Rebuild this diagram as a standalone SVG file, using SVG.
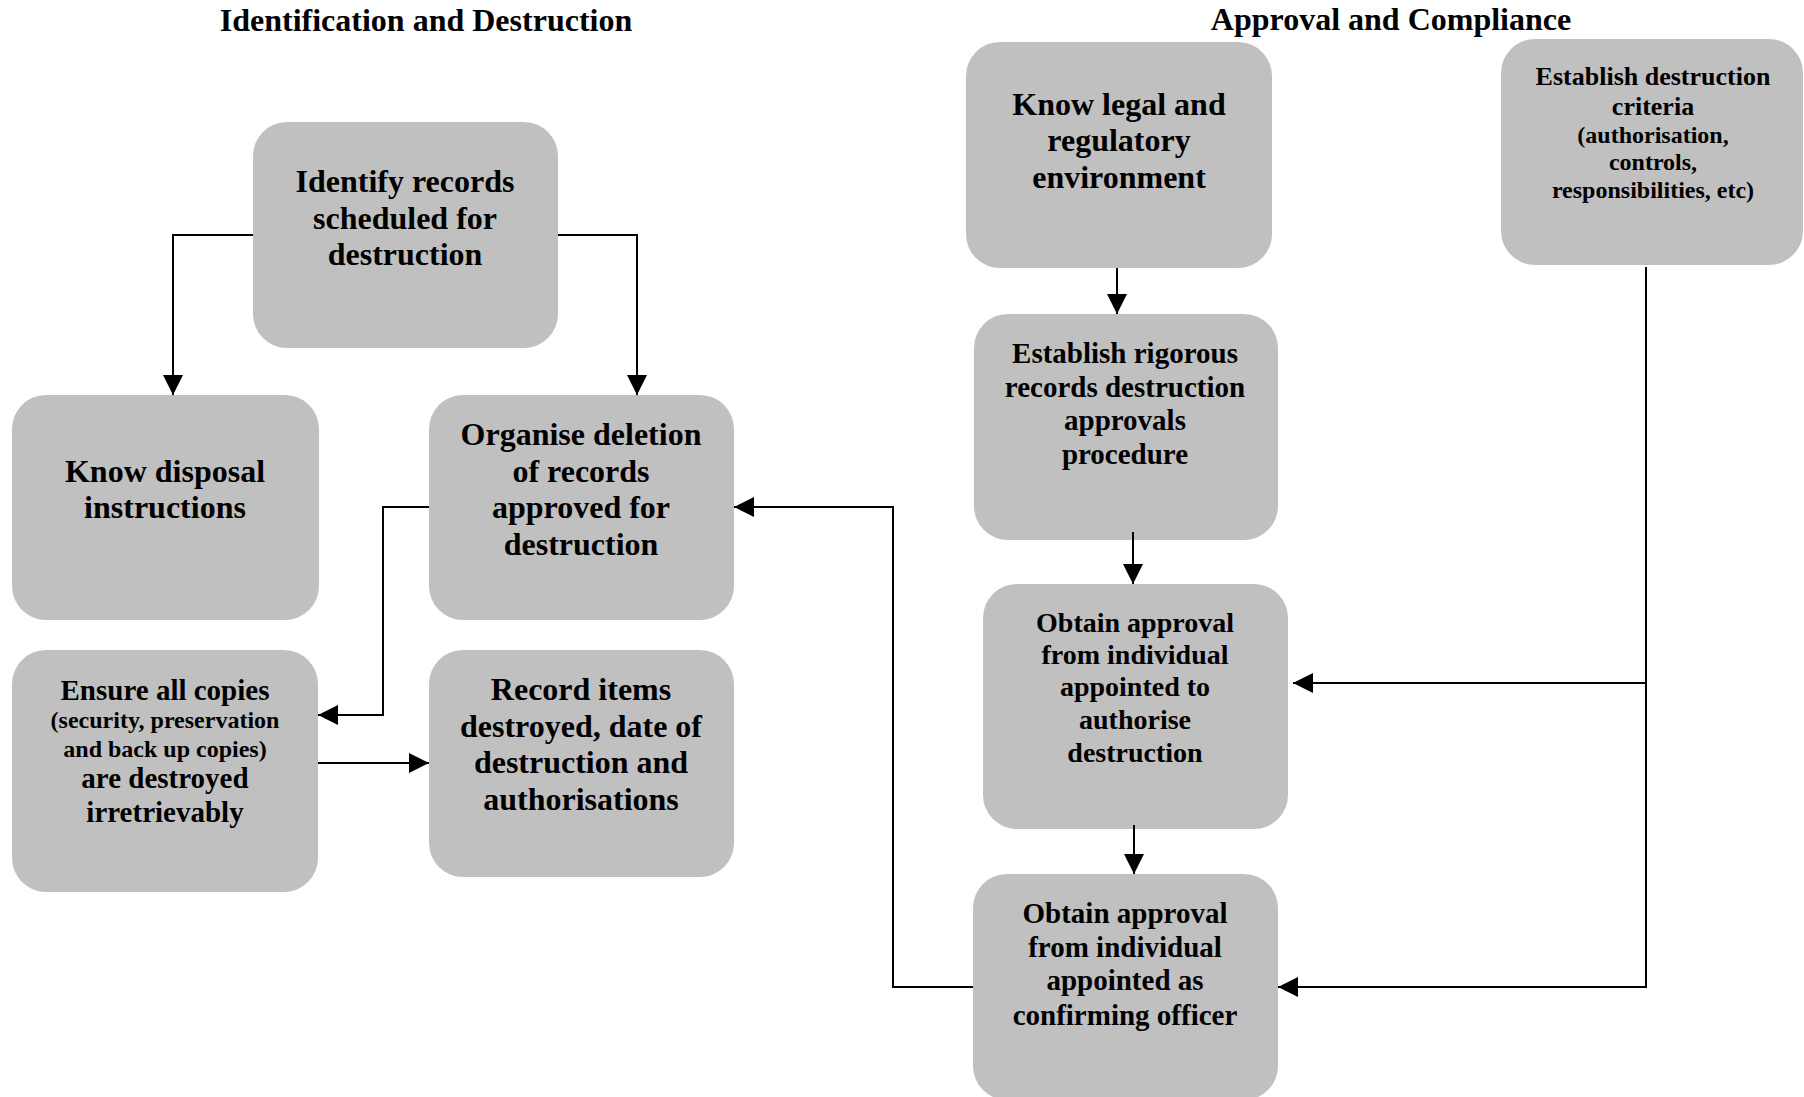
<svg xmlns="http://www.w3.org/2000/svg" width="1804" height="1097" viewBox="0 0 1804 1097">
  <style>
    .box { fill: #c0c0c0; }
    .t { font-family: "Liberation Serif", "Times New Roman", serif; font-weight: bold; fill: #000; text-anchor: middle; }
    .title { font-size: 32px; }
    .f32 { font-size: 32px; }
    .f29 { font-size: 29px; }
    .f28 { font-size: 28px; }
    .f26 { font-size: 26px; }
    .f24 { font-size: 24px; }
    .link { fill: none; stroke: #000; stroke-width: 2; }
    .arrow { marker-end: url(#head); }
  </style>
  <defs>
    <marker id="head" markerUnits="userSpaceOnUse" markerWidth="20" markerHeight="20" refX="20" refY="10" orient="auto">
      <path d="M0,0 L20,10 L0,20 Z" fill="#000"/>
    </marker>
  </defs>

  <rect width="1804" height="1097" fill="#fff"/>

  <!-- Column headings -->
  <text class="t title" x="426" y="31">Identification and Destruction</text>
  <text class="t title" x="1391" y="30">Approval and Compliance</text>

  <!-- Identification and Destruction column -->
  <g id="identify-records">
    <rect class="box" x="253" y="122" width="305" height="226" rx="34"/>
    <text class="t f32" x="405" y="192">Identify records</text>
    <text class="t f32" x="405" y="229">scheduled for</text>
    <text class="t f32" x="405" y="265">destruction</text>
  </g>

  <g id="know-disposal">
    <rect class="box" x="12" y="395" width="307" height="225" rx="34"/>
    <text class="t f32" x="165" y="482">Know disposal</text>
    <text class="t f32" x="165" y="518">instructions</text>
  </g>

  <g id="organise-deletion">
    <rect class="box" x="429" y="395" width="305" height="225" rx="34"/>
    <text class="t f32" x="581" y="445">Organise deletion</text>
    <text class="t f32" x="581" y="482">of records</text>
    <text class="t f32" x="581" y="518">approved for</text>
    <text class="t f32" x="581" y="555">destruction</text>
  </g>

  <g id="ensure-copies">
    <rect class="box" x="12" y="650" width="306" height="242" rx="34"/>
    <text class="t f29" x="165" y="700">Ensure all copies</text>
    <text class="t f24" x="165" y="728">(security, preservation</text>
    <text class="t f24" x="165" y="757">and back up copies)</text>
    <text class="t f29" x="165" y="788">are destroyed</text>
    <text class="t f29" x="165" y="822">irretrievably</text>
  </g>

  <g id="record-items">
    <rect class="box" x="429" y="650" width="305" height="227" rx="34"/>
    <text class="t f32" x="581" y="700">Record items</text>
    <text class="t f32" x="581" y="737">destroyed, date of</text>
    <text class="t f32" x="581" y="773">destruction and</text>
    <text class="t f32" x="581" y="810">authorisations</text>
  </g>

  <!-- Approval and Compliance column -->
  <g id="know-legal">
    <rect class="box" x="966" y="42" width="306" height="226" rx="34"/>
    <text class="t f32" x="1119" y="115">Know legal and</text>
    <text class="t f32" x="1119" y="151">regulatory</text>
    <text class="t f32" x="1119" y="188">environment</text>
  </g>

  <g id="destruction-criteria">
    <rect class="box" x="1501" y="39" width="302" height="226" rx="34"/>
    <text class="t f26" x="1653" y="85">Establish destruction</text>
    <text class="t f26" x="1653" y="115">criteria</text>
    <text class="t f24" x="1653" y="143">(authorisation,</text>
    <text class="t f24" x="1653" y="170">controls,</text>
    <text class="t f24" x="1653" y="198">responsibilities, etc)</text>
  </g>

  <g id="approvals-procedure">
    <rect class="box" x="974" y="314" width="304" height="226" rx="34"/>
    <text class="t f29" x="1125" y="363">Establish rigorous</text>
    <text class="t f29" x="1125" y="397">records destruction</text>
    <text class="t f29" x="1125" y="430">approvals</text>
    <text class="t f29" x="1125" y="464">procedure</text>
  </g>

  <g id="authorise-approval">
    <rect class="box" x="983" y="584" width="305" height="245" rx="34"/>
    <text class="t f28" x="1135" y="632">Obtain approval</text>
    <text class="t f28" x="1135" y="664">from individual</text>
    <text class="t f28" x="1135" y="696">appointed to</text>
    <text class="t f28" x="1135" y="729">authorise</text>
    <text class="t f28" x="1135" y="762">destruction</text>
  </g>

  <g id="confirming-approval">
    <rect class="box" x="973" y="874" width="305" height="226" rx="34"/>
    <text class="t f29" x="1125" y="923">Obtain approval</text>
    <text class="t f29" x="1125" y="957">from individual</text>
    <text class="t f29" x="1125" y="990">appointed as</text>
    <text class="t f29" x="1125" y="1025">confirming officer</text>
  </g>

  <!-- Connectors -->
  <g id="connectors">
    <path class="link arrow" d="M253,235 H173 V395"/>
    <path class="link arrow" d="M558,235 H637 V395"/>
    <path class="link arrow" d="M429,507 H383 V715 H318"/>
    <path class="link arrow" d="M318,763 H429"/>
    <path class="link arrow" d="M973,987 H893 V507 H734"/>
    <path class="link arrow" d="M1117,268 V314"/>
    <path class="link arrow" d="M1133,532 V584"/>
    <path class="link arrow" d="M1134,825 V874"/>
    <path class="link arrow" d="M1646,267 V987 H1278"/>
    <path class="link arrow" d="M1646,683 H1293"/>
  </g>
</svg>
